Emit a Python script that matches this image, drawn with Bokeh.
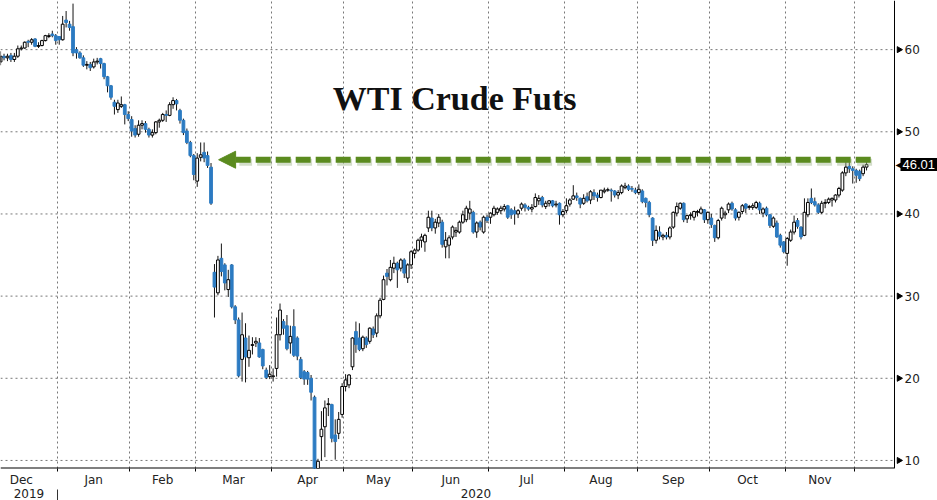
import math
from bokeh.plotting import figure
from bokeh.models import (ColumnDataSource, FixedTicker, LinearAxis, Range1d, Grid, Span,
                          Label, Arrow, NormalHead, CustomJSTickFormatter)
from bokeh.core.properties import value
from bokeh.embed import file_html
from bokeh.resources import INLINE

# ---------------- data (daily WTI front-month candles, Dec 6 2019 - Dec 4 2020) ----------------
open_ = (
    [58.5, 59.2, 59.0, 59.3, 58.8, 59.2, 60.1, 60.2, 61.0, 60.9, 61.3, 60.4, 60.5, 61.1, 61.6, 61.9, 61.7]
    + [61.6, 61.2, 63.6, 63.1, 62.8, 60.0, 59.6, 59.0, 58.1, 58.2, 57.9, 58.5, 58.9, 58.3, 56.7, 55.6, 53.6, 52.7, 53.1, 53.3, 52.1]
    + [51.5, 50.4, 49.7, 50.8, 51.0, 50.3, 49.6, 49.9, 51.2, 51.4, 52.1, 52.0, 53.3, 53.8, 52.6, 51.4, 50.1, 48.7, 47.1]
    + [44.0, 46.9, 47.5, 47.1, 45.7, 32.9, 30.4, 34.6, 33.8, 30.8, 33.8, 28.7, 27.1, 22.3, 24.9, 22.5, 24.0, 24.3, 24.3, 23.5, 21.0, 20.2]
    + [20.2, 21.2, 25.3, 26.9, 26.4, 24.3, 26.3, 24.9, 22.3, 20.8, 20.7, 20.0, 17.7, -15.0, 12.9, 14.1, 16.8, 16.8, 13.1, 13.3, 15.6]
    + [19.0, 19.2, 21.4, 25.7, 24.9, 23.6, 24.9, 24.5, 26.0, 25.5, 27.6, 29.6, 32.8, 32.0, 33.4, 34.0, 33.4, 34.4, 32.2, 33.8]
    + [35.2, 35.6, 36.8, 36.6, 38.3, 39.5, 38.3, 38.9, 39.0, 36.0, 36.2, 37.2, 37.8, 37.8, 39.0, 39.3, 40.1, 40.2, 37.8, 39.0, 37.8, 39.6]
    + [39.6, 39.9, 40.2, 40.4, 40.6, 41.0, 40.5, 40.4, 40.0, 40.7, 41.1, 40.8, 40.6, 40.9, 41.6, 42.0, 40.9, 41.3, 41.6, 41.1, 41.3, 39.9]
    + [40.4, 41.2, 41.8, 42.2, 41.9, 41.3, 42.1, 41.7, 42.6, 42.3, 42.0, 42.7, 42.9, 42.9, 42.8, 42.3, 42.6, 43.2, 43.4, 43.1, 42.9]
    + [42.6, 42.8, 41.9, 41.4, 39.5, 36.8, 37.8, 37.2, 37.4, 37.2, 38.4, 40.1, 40.7, 41.3, 39.4, 39.8, 39.6, 40.2, 40.1, 40.5, 39.3]
    + [39.5, 38.6, 37.1, 39.5, 39.9, 40.5, 41.3, 40.5, 39.6, 40.3, 41.2, 40.8, 40.8, 40.8, 41.3, 40.1, 40.7, 39.9, 38.5, 38.9, 37.4, 36.6]
    + [35.2, 36.8, 37.8, 39.2, 38.4, 37.4, 39.9, 41.9, 41.5, 41.1, 40.2, 41.3, 41.4, 41.7, 41.7, 42.3, 42.9, 45.0, 45.8, 45.5]
    + [45.3, 45.2, 44.9, 45.7]
)
high = (
    [59.8, 59.5, 59.5, 59.6, 59.6, 60.5, 60.5, 61.0, 61.2, 61.4, 61.4, 60.9, 61.2, 61.8, 62.0, 62.3, 61.9]
    + [61.6, 64.1, 64.7, 63.5, 65.6, 60.3, 59.8, 59.3, 58.6, 58.5, 58.9, 59.0, 59.0, 58.4, 56.8, 55.7, 53.9, 53.9, 54.3, 53.4, 52.5]
    + [51.9, 50.8, 51.4, 51.4, 51.3, 50.5, 50.3, 51.3, 51.6, 52.3, 52.6, 53.6, 54.2, 54.0, 52.8, 51.6, 50.4, 48.9, 47.3]
    + [47.4, 48.7, 48.7, 47.6, 46.2, 33.9, 34.9, 36.4, 34.0, 33.2, 33.9, 28.9, 27.4, 28.0, 26.7, 25.2, 25.0, 25.0, 24.9, 23.6, 21.3, 21.6]
    + [21.2, 27.4, 29.1, 27.2, 27.7, 26.4, 28.4, 25.1, 22.6, 21.0, 20.9, 20.4, 17.9, 10.2, 16.0, 17.3, 17.6, 16.9, 15.0, 15.9, 19.4]
    + [20.5, 20.5, 25.0, 26.9, 26.7, 25.2, 25.1, 26.2, 26.3, 27.9, 29.8, 32.5, 33.3, 34.4, 34.8, 34.2, 34.6, 34.6, 34.0, 35.6]
    + [35.8, 37.0, 37.6, 37.6, 40.4, 40.4, 39.4, 40.0, 39.3, 37.8, 37.4, 38.6, 38.4, 39.2, 40.4, 41.0, 41.6, 40.4, 39.1, 39.2, 39.8, 39.9]
    + [40.2, 41.0, 40.8, 41.0, 41.2, 41.1, 40.7, 40.9, 40.6, 41.4, 41.3, 41.0, 41.2, 42.5, 42.3, 42.2, 41.6, 41.7, 41.7, 41.6, 41.4, 40.6]
    + [41.9, 41.9, 43.5, 42.6, 42.0, 42.4, 42.6, 42.9, 43.0, 42.6, 42.9, 43.2, 43.2, 43.1, 42.9, 42.9, 43.6, 43.8, 43.6, 43.4, 43.2]
    + [43.6, 43.0, 42.0, 41.6, 39.6, 38.6, 38.5, 37.6, 37.8, 38.5, 40.3, 41.4, 41.4, 41.4, 39.9, 40.2, 40.4, 40.5, 40.9, 40.6, 40.3]
    + [40.0, 38.7, 39.4, 40.9, 40.4, 41.4, 41.5, 40.7, 40.3, 41.2, 41.3, 41.1, 41.3, 41.6, 41.5, 40.8, 40.9, 40.0, 39.7, 39.2, 37.6, 36.7]
    + [37.2, 38.1, 39.8, 39.5, 38.5, 41.9, 41.9, 43.1, 42.0, 41.3, 41.6, 41.8, 42.0, 42.0, 42.4, 43.3, 45.2, 46.3, 46.3, 45.8]
    + [45.5, 45.4, 46.0, 46.6]
)
low = (
    [58.1, 58.7, 58.6, 58.5, 58.5, 59.0, 59.9, 60.1, 60.3, 60.6, 60.3, 60.2, 60.4, 61.0, 61.4, 61.5, 60.6]
    + [60.6, 61.1, 62.7, 62.3, 59.2, 58.9, 58.9, 57.9, 57.6, 57.4, 57.7, 58.2, 57.7, 56.4, 54.8, 53.9, 52.1, 52.3, 52.9, 50.9, 51.3]
    + [49.4, 49.3, 49.4, 50.3, 49.9, 49.3, 49.3, 49.7, 50.5, 51.2, 51.2, 51.9, 52.8, 52.6, 51.0, 49.6, 48.5, 46.9, 44.1]
    + [43.3, 46.4, 46.3, 45.6, 41.1, 27.4, 30.1, 32.4, 30.7, 29.9, 28.5, 26.6, 20.1, 19.6, 19.5, 21.4, 22.9, 23.8, 22.5, 21.1, 19.9, 19.9]
    + [19.6, 20.2, 24.6, 25.3, 23.4, 23.0, 22.6, 22.2, 19.9, 19.2, 19.2, 17.3, -40.3, -16.0, 10.0, 10.4, 15.4, 12.2, 10.1, 12.6, 15.2]
    + [18.4, 18.8, 21.0, 23.1, 23.3, 23.3, 23.7, 24.2, 24.9, 25.0, 27.3, 29.5, 31.3, 31.8, 32.8, 31.0, 33.0, 32.2, 31.6, 33.3]
    + [34.6, 35.4, 35.9, 35.4, 37.8, 37.9, 37.6, 38.4, 35.9, 34.6, 34.6, 36.9, 37.2, 37.6, 38.8, 39.0, 39.3, 37.6, 37.1, 38.0, 37.6, 38.9]
    + [38.8, 39.7, 39.9, 40.0, 40.3, 39.4, 39.4, 38.7, 39.5, 40.4, 40.3, 40.4, 40.2, 40.8, 41.1, 40.8, 40.6, 40.9, 40.8, 40.8, 38.7, 39.6]
    + [40.1, 40.9, 41.7, 41.6, 40.7, 41.1, 41.4, 41.2, 41.7, 41.5, 41.9, 42.5, 42.7, 41.5, 42.0, 41.8, 42.4, 43.0, 42.8, 42.7, 42.4]
    + [42.3, 41.3, 40.8, 39.6, 36.1, 36.4, 36.9, 36.8, 36.9, 36.9, 38.2, 39.7, 40.5, 39.0, 38.9, 39.3, 39.2, 39.7, 40.0, 38.9, 38.8]
    + [38.3, 36.6, 36.9, 39.2, 39.4, 40.1, 40.4, 39.2, 39.2, 40.0, 40.1, 40.5, 40.5, 40.6, 40.0, 39.6, 39.7, 38.3, 38.3, 37.1, 35.9, 35.2]
    + [33.7, 36.6, 37.5, 38.2, 36.9, 37.3, 39.6, 41.2, 40.9, 40.0, 40.0, 40.7, 41.2, 40.9, 41.4, 42.0, 42.7, 44.6, 45.0, 43.7]
    + [43.8, 44.0, 44.6, 45.3]
)
close_ = (
    [59.2, 59.0, 59.2, 58.8, 59.2, 60.1, 60.2, 60.9, 60.9, 61.2, 60.4, 60.5, 61.1, 61.7, 61.7, 61.7, 61.1]
    + [61.2, 63.1, 63.3, 62.7, 59.6, 59.6, 59.0, 58.1, 58.2, 57.8, 58.5, 58.6, 58.3, 56.7, 55.6, 54.2, 53.1, 53.5, 53.3, 52.1, 51.6]
    + [50.1, 49.6, 50.8, 51.0, 50.3, 49.6, 49.9, 51.2, 51.4, 52.1, 52.0, 53.3, 53.8, 53.4, 51.4, 49.9, 48.7, 47.1, 44.8]
    + [46.8, 47.2, 46.8, 45.9, 41.3, 31.1, 34.4, 33.0, 31.6, 32.0, 28.7, 27.1, 20.3, 25.3, 22.6, 23.4, 24.1, 24.5, 22.6, 21.5, 20.1, 20.5]
    + [20.3, 25.3, 28.3, 26.1, 23.6, 25.1, 22.8, 22.7, 20.1, 19.9, 19.9, 18.3, -37.6, 9.9, 13.8, 16.4, 16.9, 12.7, 12.3, 15.0, 19.0]
    + [19.8, 20.4, 24.9, 24.1, 23.5, 25.0, 24.1, 26.1, 25.3, 27.6, 29.5, 32.0, 32.4, 33.5, 34.0, 33.2, 34.4, 32.8, 33.8, 35.4]
    + [35.6, 36.8, 37.2, 37.4, 39.6, 38.3, 39.0, 39.6, 36.3, 36.8, 37.1, 38.4, 38.0, 39.0, 39.9, 40.7, 40.6, 37.8, 38.9, 38.4, 39.6, 39.2]
    + [40.1, 40.7, 40.6, 40.7, 40.9, 39.6, 39.9, 40.0, 40.4, 41.2, 40.8, 40.6, 40.8, 42.0, 41.9, 41.1, 41.3, 41.6, 41.0, 41.2, 39.9, 40.3]
    + [41.0, 41.7, 42.2, 42.0, 41.2, 41.9, 41.6, 42.7, 42.2, 42.0, 42.9, 42.9, 42.95, 42.8, 42.3, 42.6, 43.4, 43.4, 43.0, 43.0, 42.6]
    + [43.0, 41.5, 41.4, 39.9, 36.8, 38.0, 37.3, 37.4, 37.2, 38.3, 40.2, 40.9, 41.3, 39.3, 39.8, 39.9, 40.3, 40.3, 40.6, 39.3, 40.2]
    + [38.7, 37.1, 39.2, 40.7, 40.1, 41.2, 40.6, 39.5, 40.2, 41.0, 40.7, 40.9, 41.0, 41.4, 40.5, 40.6, 39.9, 38.6, 39.5, 37.2, 36.2, 35.4]
    + [37.0, 37.8, 39.0, 38.5, 37.2, 40.2, 41.4, 41.4, 41.1, 40.2, 41.3, 41.4, 41.8, 41.9, 42.3, 43.1, 45.0, 45.7, 45.5, 45.3]
    + [44.7, 44.3, 45.7, 46.01]
)

month_labels = ["Dec", "Jan", "Feb", "Mar", "Apr", "May", "Jun", "Jul", "Aug", "Sep", "Oct", "Nov"]
month_sessions = [17, 21, 19, 22, 21, 20, 22, 22, 21, 21, 22, 20, 4]   # visible sessions per month
dec2019_full_sessions = 21
year_labels = ["2019", "2020"]
y_ticks = [10, 20, 30, 40, 50, 60]
last_price = close_[-1]
title_text = "WTI Crude Futs"

assert len(open_) == len(high) == len(low) == len(close_) == sum(month_sessions)

# ---------------- geometry ----------------
W, H = 937, 500
AXIS_PX = 894                      # pixel column of the price axis inside the figure
n = len(close_)
idx = list(range(n))
bounds = []
pos = -0.5
for d in month_sessions[:-1]:
    pos += d
    bounds.append(pos)
x_start, x_axis = -0.02, 259.1
x_end = x_start + (x_axis - x_start) * W / AXIS_PX
y_lo, y_hi = 9.02, 65.98
units_per_px = (x_axis - x_start) / AXIS_PX
centers = [bounds[0] - dec2019_full_sessions / 2] + [(bounds[i] + bounds[i + 1]) / 2 for i in range(len(bounds) - 1)]
year_centers = [(x_start + bounds[0]) / 2, (bounds[0] + x_axis) / 2]

BLUE = "#2c7bc2"
GREEN = "#5b8b1f"
GRID = "#777777"
FONT = "DejaVu Sans"

up = [i for i in idx if close_[i] >= open_[i]]
dn = [i for i in idx if close_[i] < open_[i]]
src_all = ColumnDataSource(dict(x=idx, high=high, low=low))
src_up = ColumnDataSource(dict(x=up, top=[close_[i] for i in up], bottom=[open_[i] for i in up]))
src_dn = ColumnDataSource(dict(x=dn, top=[open_[i] for i in dn], bottom=[close_[i] for i in dn]))

p = figure(width=W, height=H, x_range=Range1d(x_start, x_end), y_range=Range1d(y_lo, y_hi),
           x_axis_type=None, y_axis_type=None, output_backend="svg", toolbar_location=None,
           min_border_left=0, min_border_top=0, min_border_bottom=0, min_border_right=0,
           background_fill_color="white", border_fill_color="white", outline_line_color=None)

# grids (stop at the price axis)
p.add_layout(Grid(dimension=0, ticker=FixedTicker(ticks=bounds), grid_line_color=GRID, grid_line_dash="2 3"))
p.segment(x0=[x_start] * len(y_ticks), y0=y_ticks, x1=[x_axis] * len(y_ticks), y1=y_ticks,
          line_color=GRID, line_dash="2 3", line_width=1)

# price axis on the right
p.add_layout(Span(location=x_axis, dimension="height", line_color="black", line_width=1))
p.segment(x0=[x_start], y0=[y_lo], x1=[x_axis], y1=[y_lo], line_color="black", line_width=2)
p.scatter(x=[x_axis + 4.5 * units_per_px] * len(y_ticks), y=y_ticks, marker="triangle", size=6,
          angle=-math.pi / 2, fill_color="black", line_color="black")
p.text(x=[x_axis] * len(y_ticks), y=y_ticks, text=[str(t) for t in y_ticks], x_offset=10,
       text_font=value(FONT), text_font_size=value("12px"), text_color="#222222",
       text_align="left", text_baseline="middle")

# bottom axes: months, then years
fmt_code = "const i = pos.findIndex((t) => Math.abs(t - tick) < 1e-6); return i < 0 ? '' : names[i];"
month_axis = LinearAxis(ticker=FixedTicker(ticks=centers, minor_ticks=bounds),
                        formatter=CustomJSTickFormatter(args=dict(pos=centers, names=month_labels), code=fmt_code),
                        axis_line_color=None, major_tick_line_color=None, major_tick_in=0, major_tick_out=3,
                        minor_tick_in=0, minor_tick_out=3, minor_tick_line_color="black",
                        major_label_standoff=1, axis_label_standoff=0, major_label_text_font=FONT,
                        major_label_text_font_size="12px", major_label_text_color="#222222")
p.add_layout(month_axis, "below")
year_axis = LinearAxis(ticker=FixedTicker(ticks=year_centers, minor_ticks=[bounds[0]]),
                       formatter=CustomJSTickFormatter(args=dict(pos=year_centers, names=year_labels), code=fmt_code),
                       axis_line_color=None, major_tick_line_color=None, major_tick_in=0, major_tick_out=15,
                       minor_tick_in=0, minor_tick_out=15, minor_tick_line_color="#333333",
                       major_label_standoff=-16, axis_label_standoff=0, major_label_text_font=FONT,
                       major_label_text_font_size="12px", major_label_text_color="#222222")
p.add_layout(year_axis, "below")

# candles
p.segment(x0="x", y0="low", x1="x", y1="high", source=src_all, line_color="#151515", line_width=1)
p.vbar(x="x", width=0.8, top="top", bottom="bottom", source=src_dn, fill_color=BLUE, line_color=BLUE, line_width=1)
p.vbar(x="x", width=0.8, top="top", bottom="bottom", source=src_up, fill_color="white", line_color="black", line_width=1)

# green dashed arrow (level of the latest price, pointing back to the March gap)
arrow_level = 46.6
arrow_from, arrow_to = 252.2, 63.2
p.add_layout(Arrow(end=None, x_start=arrow_from + 0.4, y_start=arrow_level - 0.3, x_end=arrow_to + 6.0,
                   y_end=arrow_level - 0.3, line_color="#9fb58c", line_alpha=0.45, line_width=7, line_dash="15 5"))
p.add_layout(Arrow(end=NormalHead(size=17, fill_color=GREEN, line_color=GREEN),
                   x_start=arrow_from, y_start=arrow_level, x_end=arrow_to, y_end=arrow_level,
                   line_color=GREEN, line_width=6, line_dash="15 5"))

# title
p.add_layout(Label(x=131.6, y=54.0, text=title_text, text_font="Liberation Serif", text_font_style="bold",
                   text_font_size="34px", text_color="#111111", text_align="center", text_baseline="middle"))

# last price tag
p.add_layout(Label(x=x_axis, y=last_price, x_offset=1, text="\u25C0", text_font=FONT, text_font_size="10px",
                   text_color="black", text_align="left", text_baseline="middle"))
p.add_layout(Label(x=x_axis, y=last_price, x_offset=6, text=f"{last_price:.2f}", text_font="Liberation Sans",
                   text_font_size="13px", text_color="white", background_fill_color="black",
                   text_align="left", text_baseline="middle", padding=2))

open("out.html", "w").write(file_html(p, INLINE))
